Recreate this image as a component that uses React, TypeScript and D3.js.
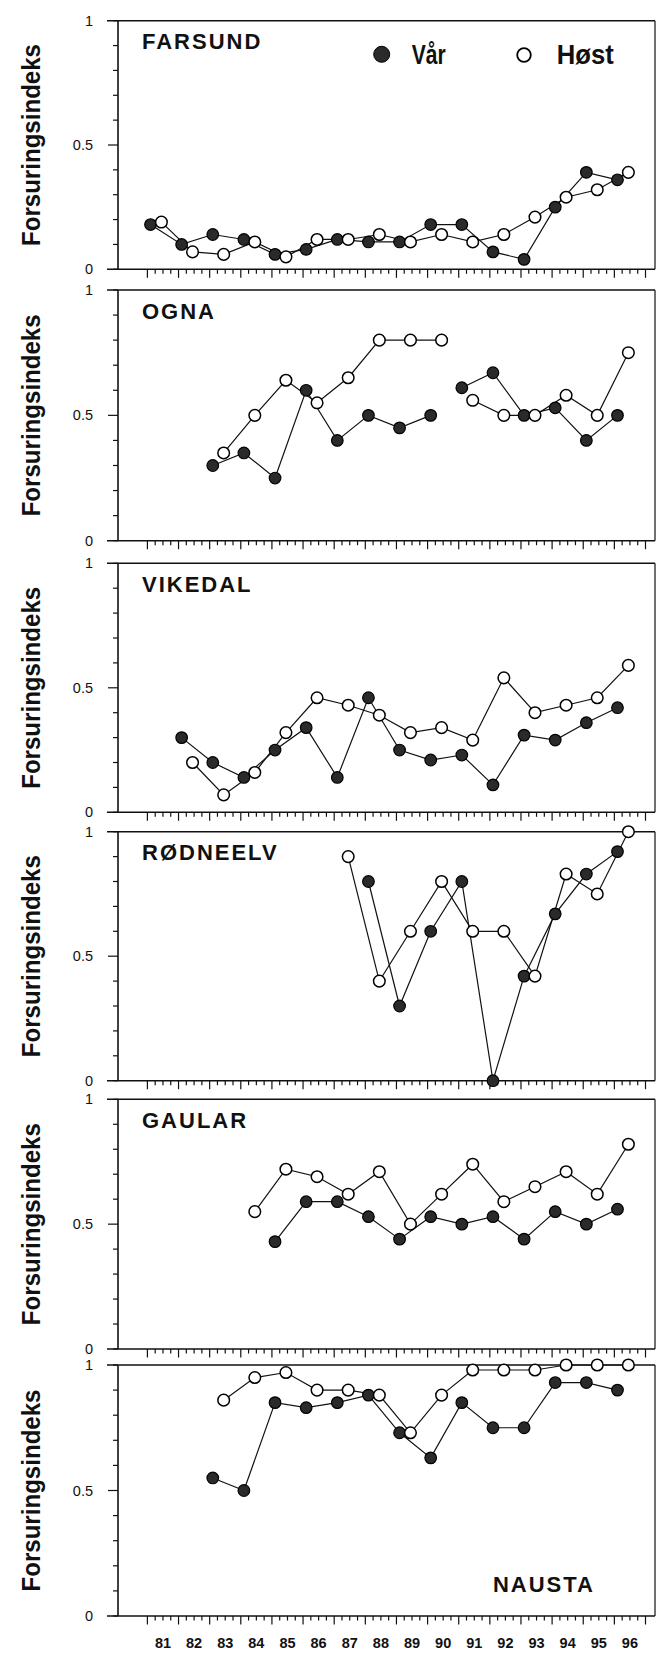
import React from 'react';
import * as d3 from 'd3';

// ---- Data (Forsuringsindeks, spring = Vår, autumn = Høst) ----
const riverNames = ['FARSUND', 'OGNA', 'VIKEDAL', 'RØDNEELV', 'GAULAR', 'NAUSTA'];

const farsundVarStart = 81;
const farsundVar = [0.18, 0.10, 0.14, 0.12, 0.06, 0.08, 0.12, 0.11, 0.11, 0.18, 0.18, 0.07, 0.04, 0.25, 0.39, 0.36];
const farsundHostStart = 81;
const farsundHost = [0.19, 0.07, 0.06, 0.11, 0.05, 0.12, 0.12, 0.14, 0.11, 0.14, 0.11, 0.14, 0.21, 0.29, 0.32, 0.39];

const ognaVarStart = 83;
const ognaVar = [0.30, 0.35, 0.25, 0.60, 0.40, 0.50, 0.45, 0.50, 0.61, 0.67, 0.50, 0.53, 0.40, 0.50];
const ognaHostStart = 83;
const ognaHost = [0.35, 0.50, 0.64, 0.55, 0.65, 0.80, 0.80, 0.80, 0.56, 0.50, 0.50, 0.58, 0.50, 0.75];
const ognaGapAfter = 90;

const vikedalVarStart = 82;
const vikedalVar = [0.30, 0.20, 0.14, 0.25, 0.34, 0.14, 0.46, 0.25, 0.21, 0.23, 0.11, 0.31, 0.29, 0.36, 0.42];
const vikedalHostStart = 82;
const vikedalHost = [0.20, 0.07, 0.16, 0.32, 0.46, 0.43, 0.39, 0.32, 0.34, 0.29, 0.54, 0.40, 0.43, 0.46, 0.59];

const rodneelvVarStart = 88;
const rodneelvVar = [0.80, 0.30, 0.60, 0.80, 0.00, 0.42, 0.67, 0.83, 0.92];
const rodneelvHostStart = 87;
const rodneelvHost = [0.90, 0.40, 0.60, 0.80, 0.60, 0.60, 0.42, 0.83, 0.75, 1.00];

const gaularVarStart = 85;
const gaularVar = [0.43, 0.59, 0.59, 0.53, 0.44, 0.53, 0.50, 0.53, 0.44, 0.55, 0.50, 0.56];
const gaularHostStart = 84;
const gaularHost = [0.55, 0.72, 0.69, 0.62, 0.71, 0.50, 0.62, 0.74, 0.59, 0.65, 0.71, 0.62, 0.82];

const naustaVarStart = 83;
const naustaVar = [0.55, 0.50, 0.85, 0.83, 0.85, 0.88, 0.73, 0.63, 0.85, 0.75, 0.75, 0.93, 0.93, 0.90];
const naustaHostStart = 83;
const naustaHost = [0.86, 0.95, 0.97, 0.90, 0.90, 0.88, 0.73, 0.88, 0.98, 0.98, 0.98, 1.00, 1.00, 1.00];

const yearLabels = ['81', '82', '83', '84', '85', '86', '87', '88', '89', '90', '91', '92', '93', '94', '95', '96'];
const yTickLabels = ['0', '0.5', '1'];
const yAxisTitle = 'Forsuringsindeks';
const legendLabels = ['Vår', 'Høst'];

type River = {
  name: string;
  varStart: number; varVals: number[];
  hostStart: number; hostVals: number[];
  gapAfter: number | null;
};

const rivers: River[] = [
  { name: riverNames[0], varStart: farsundVarStart, varVals: farsundVar, hostStart: farsundHostStart, hostVals: farsundHost, gapAfter: null },
  { name: riverNames[1], varStart: ognaVarStart, varVals: ognaVar, hostStart: ognaHostStart, hostVals: ognaHost, gapAfter: ognaGapAfter },
  { name: riverNames[2], varStart: vikedalVarStart, varVals: vikedalVar, hostStart: vikedalHostStart, hostVals: vikedalHost, gapAfter: null },
  { name: riverNames[3], varStart: rodneelvVarStart, varVals: rodneelvVar, hostStart: rodneelvHostStart, hostVals: rodneelvHost, gapAfter: null },
  { name: riverNames[4], varStart: gaularVarStart, varVals: gaularVar, hostStart: gaularHostStart, hostVals: gaularHost, gapAfter: null },
  { name: riverNames[5], varStart: naustaVarStart, varVals: naustaVar, hostStart: naustaHostStart, hostVals: naustaHost, gapAfter: null },
];

// ---- Layout ----
const W = 658;
const H = 1653;
const LEFT = 118;
const RIGHT = 655;
const panelTops = [20.7, 290, 563.3, 831.7, 1099.3, 1365];
const panelBottoms = [269.3, 540.7, 812.3, 1080.7, 1349, 1616];
const VAR_OFF = 0.1;
const HOST_OFF = 0.45;
const FONT = '"Liberation Sans", Arial, Helvetica, sans-serif';

const x = d3.scaleLinear().domain([81, 97]).range([147.4, 645.5]);
const xTicks = d3.range(81, 97.001, 0.25);

type Pt = { t: number; v: number; yr: number };

function toPoints(vals: number[], start: number, off: number): Pt[] {
  return vals.map((v, i) => ({ t: start + i + off, v, yr: start + i }));
}

function segments(pts: Pt[], gapAfter: number | null): Pt[][] {
  if (gapAfter == null) return [pts];
  return [pts.filter(p => p.yr <= gapAfter), pts.filter(p => p.yr > gapAfter)].filter(s => s.length);
}

function Panel({ river, idx }: { river: River; idx: number }) {
  const top = panelTops[idx];
  const bottom = panelBottoms[idx];
  const y = d3.scaleLinear().domain([0, 1]).range([bottom, top]);
  const line = d3.line<Pt>().x(d => x(d.t)).y(d => y(d.v));
  const varPts = toPoints(river.varVals, river.varStart, VAR_OFF);
  const hostPts = toPoints(river.hostVals, river.hostStart, HOST_OFF);
  const yTicks = d3.range(0, 11).map(i => i / 10);
  const isLast = idx === rivers.length - 1;
  const titleX = isLast ? x(92.1) : LEFT + 24;
  const titleY = isLast ? bottom - 24 : top + 28.5;
  return (
    <g>
      {/* frame */}
      <line x1={LEFT - 11} x2={RIGHT} y1={top} y2={top} stroke="#111" strokeWidth={1.6} />
      <line x1={LEFT - 11} x2={RIGHT} y1={bottom} y2={bottom} stroke="#111" strokeWidth={1.6} />
      <line x1={LEFT} x2={LEFT} y1={top} y2={bottom} stroke="#111" strokeWidth={1.6} />
      <line x1={RIGHT} x2={RIGHT} y1={top} y2={bottom} stroke="#111" strokeWidth={1.2} />
      {/* y ticks */}
      {yTicks.map((t, i) => (
        <line key={i} x1={LEFT - (Math.abs(t - 0.5) < 1e-6 ? 10 : 5)} x2={LEFT} y1={y(t)} y2={y(t)} stroke="#111" strokeWidth={1.2} />
      ))}
      {yTickLabels.map(l => (
        <text key={l} x={93} y={y(+l) + 5} textAnchor="end" fontFamily={FONT} fontSize={14.5} fill="#111">{l}</text>
      ))}
      {/* x ticks */}
      {xTicks.map((t, i) => {
        const major = Math.abs(t - Math.round(t)) < 1e-6;
        return <line key={i} x1={x(t)} x2={x(t)} y1={bottom} y2={bottom + (major ? 8.5 : 4.5)} stroke="#111" strokeWidth={1.2} />;
      })}
      {isLast && yearLabels.map(l => (
        <text key={l} x={x(+l + 0.5)} y={bottom + 32} textAnchor="middle" fontFamily={FONT} fontSize={14.5} fontWeight="bold" fill="#111">{l}</text>
      ))}
      {/* y axis title */}
      <text transform={`translate(40,${(top + bottom) / 2}) rotate(-90)`} textAnchor="middle" fontFamily={FONT} fontSize={26} fontWeight="bold" fill="#111" textLength={202} lengthAdjust="spacingAndGlyphs">{yAxisTitle}</text>
      {/* river title */}
      <text x={titleX} y={titleY} fontFamily={FONT} fontSize={22} fontWeight="bold" letterSpacing={2} fill="#111">{river.name}</text>
      {/* lines */}
      {segments(varPts, river.gapAfter).map((s, i) => (
        <path key={'v' + i} d={line(s) || ''} fill="none" stroke="#111" strokeWidth={1.2} />
      ))}
      {segments(hostPts, river.gapAfter).map((s, i) => (
        <path key={'h' + i} d={line(s) || ''} fill="none" stroke="#111" strokeWidth={1.2} />
      ))}
      {/* markers */}
      {varPts.map((p, i) => (
        <circle key={'vc' + i} cx={x(p.t)} cy={y(p.v)} r={5.8} fill="#2a2a2a" stroke="#000" strokeWidth={1.2} />
      ))}
      {hostPts.map((p, i) => (
        <circle key={'hc' + i} cx={x(p.t)} cy={y(p.v)} r={5.8} fill="#fff" stroke="#000" strokeWidth={1.5} />
      ))}
      {idx === 0 && (
        <g>
          <circle cx={381.7} cy={54.3} r={8} fill="#2a2a2a" stroke="#000" strokeWidth={1} />
          <text x={411.7} y={64.3} fontFamily={FONT} fontSize={27} fontWeight="bold" fill="#111" textLength={34} lengthAdjust="spacingAndGlyphs">{legendLabels[0]}</text>
          <circle cx={524} cy={55} r={6.8} fill="#fff" stroke="#000" strokeWidth={1.8} />
          <text x={556.7} y={64.3} fontFamily={FONT} fontSize={27} fontWeight="bold" fill="#111" textLength={57} lengthAdjust="spacingAndGlyphs">{legendLabels[1]}</text>
        </g>
      )}
    </g>
  );
}

export default function App() {
  return (
    <svg width={W} height={H} viewBox={`0 0 ${W} ${H}`} style={{ position: 'absolute', left: 0, top: 0, background: '#fff' }}>
      <rect x={0} y={0} width={W} height={H} fill="#fff" />
      {rivers.map((r, i) => <Panel key={r.name} river={r} idx={i} />)}
    </svg>
  );
}
